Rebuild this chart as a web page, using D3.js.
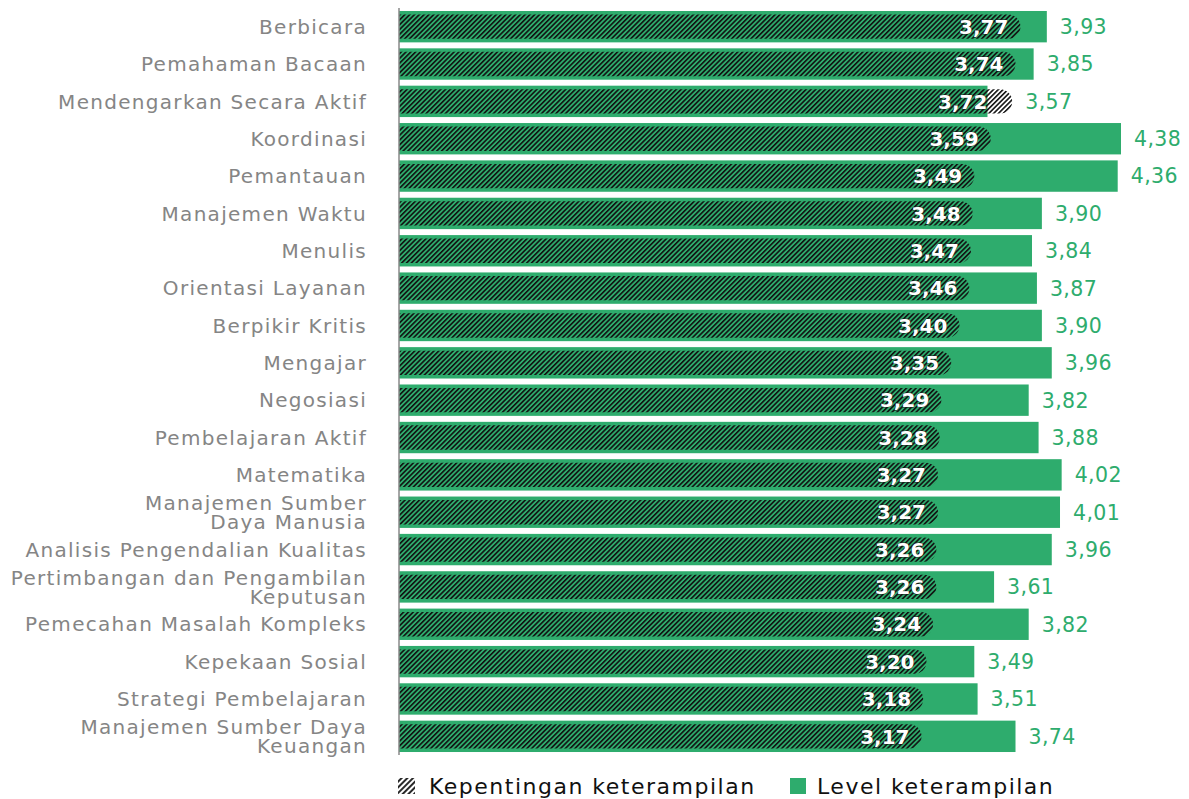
<!DOCTYPE html>
<html>
<head>
<meta charset="utf-8">
<script src="https://cdn.jsdelivr.net/npm/d3@7"></script>
<style>
  body { margin: 0; background: #fff; }
  svg text { font-family: "DejaVu Sans", sans-serif; }
</style>
</head>
<body>
<div id="chart"></div>
<script>
var skills = [
  ["Berbicara"],
  ["Pemahaman Bacaan"],
  ["Mendengarkan Secara Aktif"],
  ["Koordinasi"],
  ["Pemantauan"],
  ["Manajemen Waktu"],
  ["Menulis"],
  ["Orientasi Layanan"],
  ["Berpikir Kritis"],
  ["Mengajar"],
  ["Negosiasi"],
  ["Pembelajaran Aktif"],
  ["Matematika"],
  ["Manajemen Sumber", "Daya Manusia"],
  ["Analisis Pengendalian Kualitas"],
  ["Pertimbangan dan Pengambilan", "Keputusan"],
  ["Pemecahan Masalah Kompleks"],
  ["Kepekaan Sosial"],
  ["Strategi Pembelajaran"],
  ["Manajemen Sumber Daya", "Keuangan"]
];
var importance = [3.77, 3.74, 3.72, 3.59, 3.49, 3.48, 3.47, 3.46, 3.40, 3.35, 3.29, 3.28, 3.27, 3.27, 3.26, 3.26, 3.24, 3.20, 3.18, 3.17];
var level = [3.93, 3.85, 3.57, 4.38, 4.36, 3.90, 3.84, 3.87, 3.90, 3.96, 3.82, 3.88, 4.02, 4.01, 3.96, 3.61, 3.82, 3.49, 3.51, 3.74];
var legendLabels = ["Kepentingan keterampilan", "Level keterampilan"];

var W = 1189, H = 799;
var green = "#2eac6d";
var fmt = function(v){ return v.toFixed(2).replace(".", ","); };

var svg = d3.select("#chart").append("svg")
  .attr("width", W).attr("height", H);

var defs = svg.append("defs");
defs.append("pattern")
  .attr("id", "hatch")
  .attr("patternUnits", "userSpaceOnUse")
  .attr("width", 3.4).attr("height", 4)
  .attr("patternTransform", "rotate(45)")
  .append("line")
  .attr("x1", 0.8).attr("y1", 0).attr("x2", 0.8).attr("y2", 4)
  .attr("stroke", "#111").attr("stroke-width", 1.6);
defs.append("pattern")
  .attr("id", "hatchLegend")
  .attr("patternUnits", "userSpaceOnUse")
  .attr("width", 4).attr("height", 4)
  .attr("patternTransform", "rotate(45)")
  .append("line")
  .attr("x1", 1).attr("y1", 0).attr("x2", 1).attr("y2", 4)
  .attr("stroke", "#111").attr("stroke-width", 1.8);

var x = d3.scaleLinear().domain([0, 4.38]).range([399, 1121]);
var y = d3.scaleBand().domain(d3.range(skills.length)).range([8, 755]).paddingInner(0.16).paddingOuter(0.08);

var rows = svg.selectAll("g.row").data(skills).enter().append("g").attr("class", "row");

// level bars (green)
rows.append("rect")
  .attr("x", x(0))
  .attr("y", function(d, i){ return y(i); })
  .attr("width", function(d, i){ return x(level[i]) - x(0); })
  .attr("height", y.bandwidth())
  .attr("fill", green);

// importance bars (hatched, rounded right end)
var inset = 3.5;
rows.append("path")
  .attr("fill", "url(#hatch)")
  .attr("d", function(d, i){
    var x0 = x(0), x1 = x(importance[i]);
    var y0 = y(i) + inset, h = y.bandwidth() - 2 * inset, r = h / 2;
    return "M" + x0 + "," + y0 + "H" + (x1 - r) +
      "A" + r + "," + r + " 0 0 1 " + x1 + "," + (y0 + r) +
      "A" + r + "," + r + " 0 0 1 " + (x1 - r) + "," + (y0 + h) +
      "H" + x0 + "Z";
  });

// importance values
rows.append("text")
  .attr("x", function(d, i){ return Math.min(x(importance[i]) - 12, x(level[i])); })
  .attr("y", function(d, i){ return y(i) + y.bandwidth() / 2; })
  .attr("dy", "0.36em")
  .attr("text-anchor", "end")
  .attr("fill", "#fff")
  .attr("font-weight", 700)
  .attr("font-size", 20)
  .attr("stroke", "#1a1a1a").attr("stroke-width", 0.8).attr("paint-order", "stroke")
  .text(function(d, i){ return fmt(importance[i]); });

// level values
rows.append("text")
  .attr("x", function(d, i){ return x(Math.max(level[i], importance[i])) + 13; })
  .attr("y", function(d, i){ return y(i) + y.bandwidth() / 2; })
  .attr("dy", "0.36em")
  .attr("fill", green)
  .attr("font-size", 20.5)
  .attr("letter-spacing", 0.4)
  .text(function(d, i){ return fmt(level[i]); });

// category labels
rows.append("text")
  .attr("text-anchor", "end")
  .attr("fill", "#858585")
  .attr("font-size", 20)
  .attr("letter-spacing", 1.3)
  .each(function(d, i){
    var t = d3.select(this);
    var cy = y(i) + y.bandwidth() / 2;
    var lh = 19;
    d.forEach(function(line, k){
      t.append("tspan")
        .attr("x", 367)
        .attr("y", cy + (k - (d.length - 1) / 2) * lh)
        .attr("dy", "0.36em")
        .text(line);
    });
  });

// axis line
svg.append("line")
  .attr("x1", x(0)).attr("x2", x(0))
  .attr("y1", 8).attr("y2", 755)
  .attr("stroke", "#888").attr("stroke-width", 1.5);

// legend
var lg = svg.append("g").attr("transform", "translate(398,786)");
lg.append("rect").attr("x", 0).attr("y", -8).attr("width", 17).attr("height", 16).attr("fill", "url(#hatchLegend)");
lg.append("text").attr("x", 31).attr("dy", "0.36em").attr("font-size", 22).attr("fill", "#111")
  .attr("letter-spacing", 1.5).text(legendLabels[0]);
lg.append("rect").attr("x", 392).attr("y", -8).attr("width", 16).attr("height", 16).attr("fill", green);
lg.append("text").attr("x", 419).attr("dy", "0.36em").attr("font-size", 22).attr("fill", "#111")
  .attr("letter-spacing", 1.5).text(legendLabels[1]);
</script>
</body>
</html>
